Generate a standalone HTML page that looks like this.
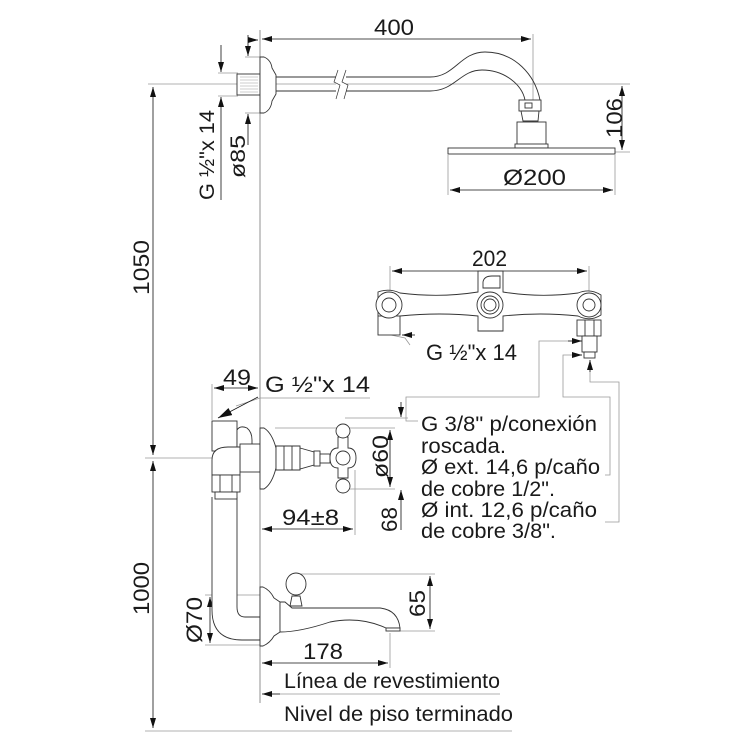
<!DOCTYPE html>
<html><head><meta charset="utf-8"><style>
html,body{margin:0;padding:0;background:#fff;}
svg{display:block;}
text{font-family:"Liberation Sans",Arial,sans-serif;fill:#1a1a1a;}
</style></head><body>
<svg width="750" height="750" viewBox="0 0 750 750" xmlns="http://www.w3.org/2000/svg">
<defs>
<marker id="a" viewBox="0 0 10 6" refX="10" refY="3" markerWidth="10" markerHeight="6" markerUnits="userSpaceOnUse" orient="auto-start-reverse"><path d="M0,0 L10,3 L0,6 Z" fill="#111"/></marker>
<marker id="b" viewBox="0 0 14 8" refX="14" refY="4" markerWidth="14" markerHeight="8" markerUnits="userSpaceOnUse" orient="auto-start-reverse"><path d="M0,0 L14,4 L0,8 Z" fill="#111"/></marker>
</defs>
<g fill="none" stroke="#999" stroke-width="0.8">
<line x1="260" y1="30" x2="260" y2="703" stroke="#777"/>
<line x1="148" y1="84" x2="630" y2="84"/>
<line x1="145" y1="458" x2="260" y2="458"/>
<line x1="145" y1="731" x2="512" y2="731"/>
<line x1="533" y1="34" x2="533" y2="150"/>
<line x1="600" y1="152" x2="630" y2="152"/>
<line x1="448" y1="155" x2="448" y2="195"/>
<line x1="615" y1="155" x2="615" y2="195"/>
<line x1="218" y1="73" x2="238" y2="73"/><line x1="218" y1="96" x2="238" y2="96"/>
<line x1="245" y1="57" x2="260" y2="57"/><line x1="245" y1="113" x2="260" y2="113"/>
<line x1="390" y1="266" x2="390" y2="300"/><line x1="589" y1="266" x2="589" y2="300"/>
<line x1="212" y1="384" x2="212" y2="420"/>
<line x1="275" y1="428" x2="395" y2="428"/>
<line x1="350" y1="489" x2="395" y2="489"/>
<line x1="355" y1="470" x2="355" y2="535"/>
<line x1="345" y1="418" x2="408" y2="418"/>
<line x1="260" y1="398" x2="370" y2="398"/>
<line x1="260" y1="398" x2="236" y2="406"/>
<line x1="300" y1="574" x2="435" y2="574"/>
<line x1="400" y1="631" x2="435" y2="631"/>
<line x1="390" y1="633" x2="390" y2="668"/>
<line x1="205" y1="595" x2="260" y2="595"/>
<line x1="205" y1="645" x2="260" y2="645"/>
<line x1="265" y1="694" x2="500" y2="694"/>
<polyline points="582,341 539,341 539,397 406,397 406,421 418,421"/>
<polyline points="582,355 563,355 563,397 610,397 610,475 605,475"/>
<polyline points="590,360 590,382 619,382 619,522 605,522"/>
<polyline points="391,335 405,338 410,345"/>
</g>
<g stroke="#111" stroke-width="0.8" fill="none">
<line x1="262" y1="39" x2="531" y2="39" marker-start="url(#a)" marker-end="url(#a)"/>
<line x1="622" y1="86" x2="622" y2="150" marker-start="url(#a)" marker-end="url(#a)"/>
<line x1="450" y1="190" x2="613" y2="190" marker-start="url(#a)" marker-end="url(#a)"/>
<line x1="153" y1="87" x2="153" y2="455" marker-start="url(#a)" marker-end="url(#a)"/>
<line x1="153" y1="461" x2="153" y2="728" marker-start="url(#a)" marker-end="url(#a)"/>
<line x1="221" y1="45" x2="221" y2="72" marker-end="url(#a)"/>
<line x1="221" y1="200" x2="221" y2="97" marker-end="url(#a)"/>
<line x1="248" y1="35" x2="248" y2="56" marker-end="url(#a)"/>
<line x1="248" y1="145" x2="248" y2="114" marker-end="url(#a)"/>
<line x1="248" y1="40" x2="258" y2="40" marker-end="url(#a)"/>
<line x1="392" y1="271" x2="587" y2="271" marker-start="url(#a)" marker-end="url(#a)"/>
<line x1="214" y1="388" x2="258" y2="388" marker-start="url(#a)" marker-end="url(#a)"/>
<line x1="390" y1="430" x2="390" y2="487" marker-start="url(#a)" marker-end="url(#a)"/>
<line x1="401" y1="402" x2="401" y2="417" marker-end="url(#a)"/>
<line x1="401" y1="530" x2="401" y2="490" marker-end="url(#a)"/>
<line x1="262" y1="529" x2="353" y2="529" marker-start="url(#a)" marker-end="url(#a)"/>
<line x1="430" y1="576" x2="430" y2="629" marker-start="url(#a)" marker-end="url(#a)"/>
<line x1="262" y1="663" x2="388" y2="663" marker-start="url(#a)" marker-end="url(#a)"/>
<line x1="210" y1="597" x2="210" y2="643" marker-start="url(#a)" marker-end="url(#a)"/>
<line x1="280" y1="694" x2="262" y2="694" marker-end="url(#a)"/>
<line x1="415" y1="335" x2="402" y2="335" marker-end="url(#a)"/>
<line x1="568" y1="341" x2="582" y2="341" marker-end="url(#a)"/>
<line x1="572" y1="355" x2="582" y2="355" marker-end="url(#a)"/>
<line x1="590" y1="372" x2="590" y2="360" marker-end="url(#a)"/>
<line x1="258" y1="397" x2="218" y2="418" marker-end="url(#b)"/>
</g>
<g fill="#fff" stroke="#333" stroke-width="0.9">
<rect x="237" y="74" width="23" height="21"/>
<g stroke="#999" stroke-width="0.6"><line x1="240" y1="77" x2="258" y2="77"/><line x1="240" y1="80" x2="258" y2="80"/><line x1="240" y1="83" x2="258" y2="83"/><line x1="240" y1="86" x2="258" y2="86"/><line x1="240" y1="89" x2="258" y2="89"/><line x1="240" y1="92" x2="258" y2="92"/></g>
<path d="M260,57 L264,57 Q271,60 272,68 L276,75 L276,94 L272,101 Q271,110 264,113 L260,113 Z"/>
<path d="M276,77 L430,77 C455,77 460,52 485,52 C515,52 535,75 540,100" fill="none"/>
<path d="M276,91 L430,91 C455,91 460,70 482,70 C505,70 522,85 525,100" fill="none"/>
<rect x="336" y="74" width="10" height="21" stroke="none"/>
<path d="M338,70 L334,82 L340,85 L336,99 M346,70 L342,82 L348,85 L344,99" fill="none" stroke-width="0.7"/>
<rect x="519" y="100" width="22" height="11"/>
<rect x="525" y="103" width="7" height="5"/>
<path d="M521,111 L539,111 L538,121 L523,121 Z"/>
<rect x="517" y="122" width="29" height="24"/>
<rect x="515" y="144" width="33" height="4"/>
<rect x="448" y="148" width="167" height="6"/>
<path d="M378,292 Q389,288 400,293 Q440,298 478,292 L478,271 L503,271 L503,292 Q540,298 578,293 Q590,288 601,295 L601,315 Q590,322 578,316 Q540,312 503,316 L503,331 L478,331 L478,316 Q440,312 400,316 Q389,322 378,316 Z"/>
<rect x="378" y="316" width="22" height="19"/>
<circle cx="389" cy="305" r="13"/><circle cx="389" cy="305" r="7"/>
<circle cx="490" cy="305" r="13"/><circle cx="490" cy="305" r="9"/><circle cx="490" cy="305" r="6"/>
<circle cx="589" cy="305" r="12"/><circle cx="589" cy="305" r="6"/>
<path d="M483,282 Q484,276 492,276 L500,276 L500,288 L483,288 Z" fill="none"/>
<rect x="577" y="320" width="24" height="16"/>
<line x1="585" y1="320" x2="585" y2="336"/><line x1="594" y1="320" x2="594" y2="336"/>
<rect x="582" y="336" width="15" height="16"/>
<rect x="584" y="352" width="11" height="6"/>
<path d="M212,497 L212,610 Q212,640 242,640 L260,640 L260,617 L245,617 Q237,617 237,607 L237,497"/>
<rect x="212" y="421" width="25" height="30"/>
<path d="M237,430 Q240,425 247,428 Q252,432 252,440 L252,470 L237,470 Z"/>
<rect x="240" y="444" width="20" height="28"/>
<path d="M212,460 Q212,447 228,447 L240,447 L240,475 L212,475 Z"/>
<rect x="212" y="475" width="28" height="17"/>
<line x1="220" y1="475" x2="220" y2="492"/><line x1="232" y1="475" x2="232" y2="492"/>
<rect x="215" y="492" width="22" height="7"/>
<path d="M260,428 L264,428 Q272,433 276,448 L276,468 Q272,484 264,489 L260,489 Z"/>
<path d="M276,446 L300,446 L300,470 L276,470 Z"/>
<line x1="284" y1="446" x2="284" y2="470"/><line x1="292" y1="446" x2="292" y2="470"/>
<path d="M300,448 L314,452 L314,465 L300,469 Z"/>
<rect x="314" y="451" width="6" height="15"/>
<rect x="320" y="454" width="10" height="9"/>
<path d="M338,437 L348,437 L348,448 Q356,448 356,458 Q356,468 348,468 L348,478 L338,478 L338,468 Q330,468 330,458 Q330,448 338,448 Z"/>
<circle cx="343" cy="458" r="7"/>
<circle cx="343" cy="431" r="7"/><circle cx="343" cy="486" r="7"/>
<path d="M260,587 L263,587 Q270,590 274,598 L280,602 L280,632 L274,636 Q270,643 263,646 L260,646 Z"/>
<path d="M280,602 L285,602 L292,608 L380,608 Q398,610 400,628 L386,628 Q360,616 330,622 Q300,632 280,632 Z"/>
<rect x="386" y="628" width="14" height="3"/>
<path d="M290,606 L292,596 L300,596 L302,606 Z"/>
<ellipse cx="296" cy="584" rx="10" ry="11"/>
</g>
<g font-size="22">
<text x="374" y="35" textLength="40" lengthAdjust="spacingAndGlyphs">400</text>
<text x="503" y="185" textLength="63" lengthAdjust="spacingAndGlyphs">Ø200</text>
<text x="472" y="266" textLength="35" lengthAdjust="spacingAndGlyphs">202</text>
<text x="223" y="385" textLength="28" lengthAdjust="spacingAndGlyphs">49</text>
<text x="265" y="392" textLength="105" lengthAdjust="spacingAndGlyphs">G ½"x 14</text>
<text x="426" y="360" textLength="91" lengthAdjust="spacingAndGlyphs">G ½"x 14</text>
<text x="282" y="525" textLength="57" lengthAdjust="spacingAndGlyphs">94±8</text>
<text x="303" y="659" textLength="40" lengthAdjust="spacingAndGlyphs">178</text>
<text transform="translate(622,138) rotate(-90)" textLength="40" lengthAdjust="spacingAndGlyphs">106</text>
<text transform="translate(149,295) rotate(-90)" textLength="55" lengthAdjust="spacingAndGlyphs">1050</text>
<text transform="translate(149,615) rotate(-90)" textLength="53" lengthAdjust="spacingAndGlyphs">1000</text>
<text transform="translate(388,478) rotate(-90)" textLength="43" lengthAdjust="spacingAndGlyphs">ø60</text>
<text transform="translate(397,532) rotate(-90)" textLength="25" lengthAdjust="spacingAndGlyphs">68</text>
<text transform="translate(425,617) rotate(-90)" textLength="27" lengthAdjust="spacingAndGlyphs">65</text>
<text transform="translate(202,643) rotate(-90)" textLength="46" lengthAdjust="spacingAndGlyphs">Ø70</text>
</g>
<g font-size="21">
<text transform="translate(214,200) rotate(-90)" textLength="90" lengthAdjust="spacingAndGlyphs">G ½"x 14</text>
<text transform="translate(245,178) rotate(-90)" textLength="43" lengthAdjust="spacingAndGlyphs">ø85</text>
<text x="421" y="431" textLength="176" lengthAdjust="spacingAndGlyphs">G 3/8" p/conexión</text>
<text x="421" y="453" textLength="85" lengthAdjust="spacingAndGlyphs">roscada.</text>
<text x="421" y="474" textLength="179" lengthAdjust="spacingAndGlyphs">Ø ext. 14,6 p/caño</text>
<text x="421" y="496" textLength="134" lengthAdjust="spacingAndGlyphs">de cobre 1/2".</text>
<text x="421" y="517" textLength="176" lengthAdjust="spacingAndGlyphs">Ø int. 12,6 p/caño</text>
<text x="421" y="538" textLength="135" lengthAdjust="spacingAndGlyphs">de cobre 3/8".</text>
<text x="284" y="688" textLength="216" lengthAdjust="spacingAndGlyphs">Línea de revestimiento</text>
<text x="284" y="721" textLength="229" lengthAdjust="spacingAndGlyphs">Nivel de piso terminado</text>
</g>
</svg>
</body></html>
